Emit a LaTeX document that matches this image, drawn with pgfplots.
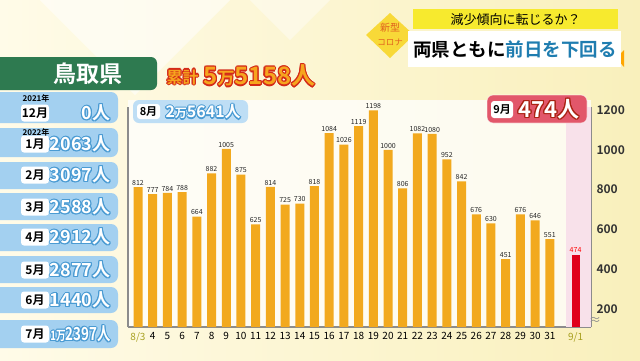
\documentclass[border=0pt]{standalone}
\usepackage{pgfplots}
\pgfplotsset{compat=1.18}
\usepackage{fontspec}
\setmainfont{Noto Sans CJK JP}[BoldFont={Noto Sans CJK JP Bold}]
\definecolor{barorange}{HTML}{F2A91E}
\definecolor{barred}{HTML}{E0001A}
\definecolor{axgray}{HTML}{8C8C8C}
\definecolor{grn}{HTML}{2E7A50}
\definecolor{lblue}{HTML}{A3D0F0}
\definecolor{oblue}{HTML}{4A9BD3}
\definecolor{pinkband}{HTML}{F8E1EA}
\definecolor{redbox}{HTML}{E2576A}
\definecolor{ylw}{HTML}{F7EA2E}
\definecolor{tblue}{HTML}{1F7DB0}
\definecolor{olv}{HTML}{A8A020}
\definecolor{bgl}{HTML}{FFFBE8}
\definecolor{bgr}{HTML}{F9F0BC}
\definecolor{dia}{HTML}{F8D938}
\definecolor{diatext}{HTML}{E0601E}
\definecolor{kfill}{HTML}{F6A51E}
\definecolor{kline}{HTML}{D42A18}
\newcommand\otext[5]{%
  \foreach \ang in {0,30,...,330}{\node[#1,text=#4,shift={(\ang:1.1pt)}] at #2 {#5};}
  \node[#1,text=#3] at #2 {#5};}
\newcommand\fs[1]{\fontsize{#1}{#1}\selectfont}
\begin{document}
\begin{tikzpicture}
\useasboundingbox (0,0) rectangle (640pt,-360pt);
\begin{scope}[x=1pt,y=-1pt]
\shade[left color=bgl, right color=bgr] (0,0) rectangle (640,360);
\fill[white,opacity=0.55] (40,0) -- (230,0) -- (135,95) -- cycle;
\fill[white,opacity=0.4] (250,0) -- (330,0) -- (290,40) -- cycle;
\fill[white,opacity=0.75] (128,100) rectangle (591,327);
% header right
\fill[dia] (390,13) -- (414,35) -- (390,58) -- (366,35) -- cycle;
\node[text=diatext,font=\fs{10}] at (390,28) {新型};
\node[text=diatext,font=\fs{8.5}] at (390,42) {コロナ};
\fill[ylw] (413,9) rectangle (618,29);
\node[font=\fs{13}] at (515.5,19.5) {減少傾向に転じるか？};
\fill[orange!70!yellow] (616,58) -- (624,50) -- (624,67) -- cycle;
\fill[white] (408,31) rectangle (621,67);
\node[font=\bfseries\fs{18.5}] at (515,49) {両県ともに\textcolor{tblue}{前日を下回る}};
% title left
\fill[grn, rounded corners=6pt] (-10,57) rectangle (157,90);
\node[text=white,font=\bfseries\fs{23}] at (88,74) {鳥取県};
\otext{anchor=west,font=\bfseries\fs{16}}{(163,77)}{kfill}{kline}{累計}
\otext{anchor=west,font=\bfseries\fs{24}}{(200,76)}{kfill}{kline}{5{\fs{17}万}5158人}
% left list
\foreach \ta/\tb/\yy/\mm/\vv in {92/123/113/12月/0人, 128/157/144/1月/2063人, 162/189/175/2月/3097人,
   193/220/207/3月/2588人, 224/251/237/4月/2912人, 256/283/270/5月/2877人,
   287/313/300/6月/1440人, 320/348/334/7月/{\scalebox{0.74}[1]{{\fs{13}1万}2397人}}}{
  \fill[lblue, rounded corners=7pt] (-10,\ta) rectangle (118,\tb);
  \fill[white, rounded corners=3pt] (21,\yy-8.5) rectangle (49,\yy+8.5);
  \node[font=\bfseries\fs{12}] at (35,\yy) {\mm};
  \otext{anchor=east,font=\bfseries\fs{18}}{(114,\yy)}{white}{oblue}{\vv}
}
\node[font=\bfseries\fs{8}] at (36,98) {2021年};
\node[font=\bfseries\fs{8}] at (36,132.5) {2022年};
% August box
\fill[lblue!70!white, rounded corners=6pt] (133,100) rectangle (248,123);
\fill[white, rounded corners=3pt] (137,104) rectangle (160,119);
\node[font=\bfseries\fs{11}] at (148.5,111.5) {8月};
\otext{anchor=west,font=\bfseries\fs{16}}{(162,112)}{white}{oblue}{2{\fs{12}万}5641人}
\end{scope}
\begin{axis}[
  at={(128pt,-327pt)}, anchor=south west,
  scale only axis, width=463pt, height=220pt,
  xmin=-0.68, xmax=30.8, ymin=110, ymax=1215,
  axis x line=bottom, axis y line=right,
  axis line style={-, axgray, line width=2pt},
  xtick={0,1,...,28,29.75},
  xticklabels={\textcolor{olv}{8/3},4,5,6,7,8,9,10,11,12,13,14,15,16,17,18,19,20,21,22,23,24,25,26,27,28,29,30,31,\textcolor{olv}{9/1}},
  x tick style={draw=none},
  x tick label style={font=\fs{10}, yshift=-2pt},
  ytick={200,400,...,1200},
  minor ytick={300,500,...,1100},
  y tick style={axgray, line width=1.2pt},
  tick align=inside, major tick length=5pt, minor tick length=3pt,
  y tick label style={font=\bfseries\fs{12}, text=black!80, xshift=2pt},
  /pgf/number format/assume math mode=true,
  /pgf/number format/1000 sep={},
  clip=false,
]
\fill[pinkband] (axis cs:29.1,110) rectangle (axis cs:30.8,1215);
\draw[axgray, line width=2pt] (rel axis cs:0,0) -- (rel axis cs:0,1);
\addplot[ybar, bar width=9pt, bar shift=0pt, fill=barorange, draw=none,
  nodes near coords, nodes near coords style={font=\fs{7}, text=black!85, inner sep=1.5pt}]
  coordinates {(0,812) (1,777) (2,784) (3,788) (4,664) (5,882) (6,1005) (7,875) (8,625) (9,814)
  (10,725) (11,730) (12,818) (13,1084) (14,1026) (15,1119) (16,1198) (17,1000) (18,806) (19,1082)
  (20,1080) (21,952) (22,842) (23,676) (24,630) (25,451) (26,676) (27,646) (28,551)};
\addplot[ybar, bar width=8pt, bar shift=0pt, fill=barred, draw=none,
  nodes near coords, nodes near coords style={font=\fs{7}, text=red, inner sep=1.5pt}]
  coordinates {(29.75,474)};
\end{axis}
\begin{scope}[x=1pt,y=-1pt]
\fill[redbox, rounded corners=6pt] (487,95) rectangle (587,123);
\draw[white, opacity=0.6, line width=0.8pt, rounded corners=6pt] (487,95) rectangle (587,123);
\fill[white, rounded corners=3pt] (491,101) rectangle (513,118);
\node[font=\bfseries\fs{11}] at (502,109.5) {9月};
\otext{anchor=west,font=\bfseries\fs{22}}{(515,109)}{white}{kline!80!black}{474人}
\node[text=axgray, font=\fs{12}, inner sep=0pt] at (595,321) {≈};
\end{scope}
\end{tikzpicture}
\end{document}
